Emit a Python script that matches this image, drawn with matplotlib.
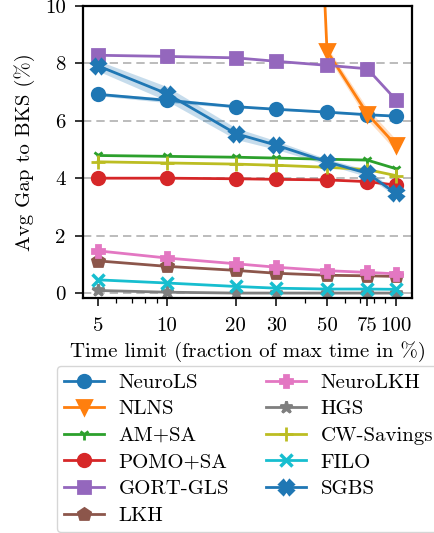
import numpy as np
import matplotlib
matplotlib.use("Agg")
import matplotlib.pyplot as plt
from matplotlib.ticker import FixedLocator, NullFormatter

plt.rcParams['font.family'] = ['cmr10', 'DejaVu Serif']
plt.rcParams['mathtext.fontset'] = 'cm'
plt.rcParams['axes.formatter.use_mathtext'] = True
plt.rcParams['font.size'] = 15

# time limit (% of max time)
time_limits = [5, 10, 20, 30, 50, 75, 100]

neurols = [6.92, 6.71, 6.49, 6.40, 6.30, 6.21, 6.16]
neurols_std = [0.05, 0.08, 0.04, 0.03, 0.03, 0.03, 0.03]
nlns_x = [30, 50, 75, 100]
nlns = [48.0, 8.43, 6.24, 5.15]
nlns_std = [1.0, 0.15, 0.2, 0.2]
am_sa = [4.79, 4.76, 4.73, 4.70, 4.66, 4.63, 4.33]
pomo_sa = [4.00, 4.00, 3.98, 3.96, 3.94, 3.88, 3.76]
gort_gls = [8.28, 8.24, 8.19, 8.07, 7.93, 7.81, 6.73]
lkh = [1.12, 0.93, 0.79, 0.69, 0.62, 0.60, 0.58]
neurolkh = [1.47, 1.22, 1.02, 0.90, 0.78, 0.72, 0.67]
hgs = [0.09, 0.03, 0.0, 0.0, 0.0, 0.0, 0.0]
cw_savings = [4.57, 4.53, 4.49, 4.45, 4.38, 4.30, 4.09]
filo = [0.46, 0.35, 0.23, 0.17, 0.14, 0.14, 0.13]
sgbs = [7.91, 6.94, 5.55, 5.15, 4.57, 4.17, 3.47]
sgbs_std = [0.18, 0.25, 0.2, 0.15, 0.1, 0.12, 0.1]

fig = plt.figure(figsize=(4.35, 5.33), dpi=100)
ax = fig.add_axes([0.191, 0.441, 0.756, 0.548])

for g in [0, 2, 4, 6, 8]:
    ax.axhline(g, color='#b0b0b0', ls=(0, (5, 3)), lw=1.2, zorder=0)

def line(x, y, c, m, label, ms=9, std=None, mew=2):
    x = np.array(x)
    y = np.array(y)
    if std is not None:
        s = np.array(std)
        ax.fill_between(x, y - s, y + s, color=c, alpha=0.25, lw=0)
    ax.plot(x, y, color=c, marker=m, ms=ms, lw=2, mew=mew, label=label)

line(time_limits, neurols, 'C0', 'o', 'NeuroLS', std=neurols_std)
line(nlns_x, nlns, 'C1', 'v', 'NLNS', std=nlns_std, ms=10)
line(time_limits, am_sa, 'C2', '1', 'AM+SA', ms=8)
line(time_limits, pomo_sa, 'C3', 'o', 'POMO+SA')
line(time_limits, gort_gls, 'C4', 's', 'GORT-GLS')
line(time_limits, lkh, 'C5', 'p', 'LKH')
line(time_limits, neurolkh, 'C6', 'P', 'NeuroLKH')
line(time_limits, hgs, 'C7', '*', 'HGS')
line(time_limits, cw_savings, 'C8', '+', 'CW-Savings', ms=10)
line(time_limits, filo, 'C9', 'x', 'FILO', mew=2.5)
line(time_limits, sgbs, 'C0', 'X', 'SGBS', std=sgbs_std, ms=10)

ax.set_xscale('log')
ax.set_xlim(4.3, 117.5)
ax.set_ylim(-0.17, 10)
ax.xaxis.set_major_locator(FixedLocator(time_limits))
ax.set_xticklabels([str(t) for t in time_limits])
ax.xaxis.set_minor_formatter(NullFormatter())
ax.set_yticks([0, 2, 4, 6, 8, 10])
ax.set_yticklabels(['0', '2', '4', '6', '8', '10'])
for sp in ax.spines.values():
    sp.set_linewidth(1.6)
    sp.set_color('black')
ax.tick_params(which='major', length=5.5, width=1.1)
ax.tick_params(axis='x', which='major', pad=8)
ax.tick_params(axis='y', which='major', pad=7)
ax.tick_params(which='minor', length=3.5, width=0.9)

ax.set_xlabel('Time limit (fraction of max time in %)', labelpad=5)
ax.set_ylabel('Avg Gap to BKS (%)', labelpad=7)

fig.legend(loc='upper left', bbox_to_anchor=(57 / 435, 1 - 366 / 533),
           ncol=2, frameon=True, edgecolor='#cccccc', fancybox=True,
           handlelength=1.9, handletextpad=0.7, columnspacing=1.8,
           labelspacing=0.385, borderpad=0.35, borderaxespad=0)

fig.savefig('out.png', dpi=100)
